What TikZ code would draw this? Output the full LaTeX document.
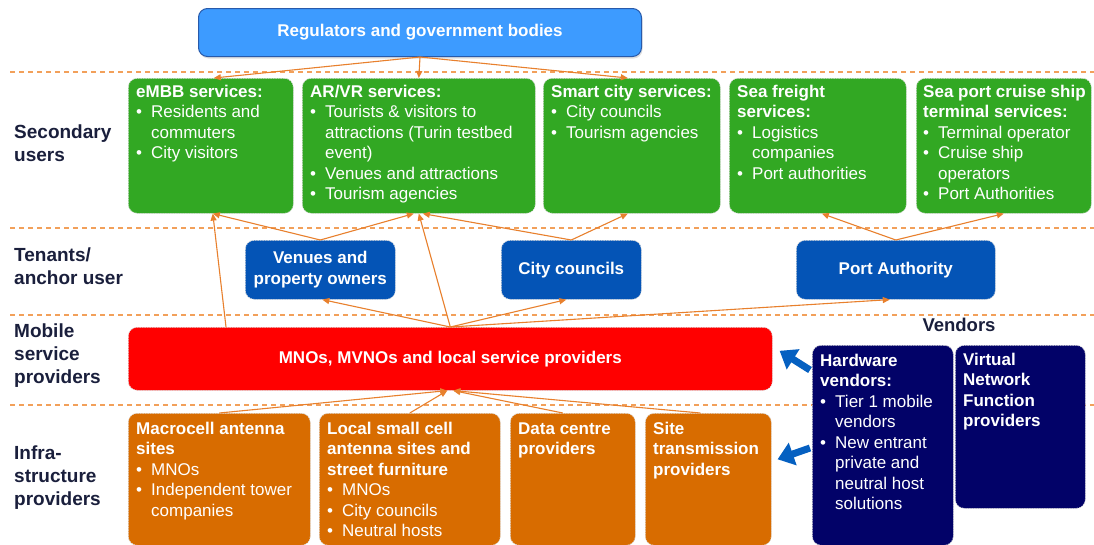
\documentclass[tikz,border=0pt]{standalone}
\usepackage{fontspec}
\setmainfont{Liberation Sans}
\usetikzlibrary{arrows.meta,shadows}
\definecolor{cgreen}{RGB}{50,168,35}
\definecolor{ctenant}{RGB}{4,84,182}
\definecolor{creg}{RGB}{61,155,255}
\definecolor{cregb}{RGB}{40,90,170}
\definecolor{cred}{RGB}{255,0,0}
\definecolor{corange}{RGB}{216,108,0}
\definecolor{cnavy}{RGB}{2,2,104}
\definecolor{clabel}{RGB}{26,31,60}
\definecolor{cconn}{RGB}{232,128,45}
\definecolor{csep}{RGB}{242,160,90}
\definecolor{cbig}{RGB}{5,96,193}
\newcommand\bitem[1]{\makebox[15pt][l]{\textbullet}#1}
\newcommand\bcont[1]{\hspace*{15pt}#1}
\begin{document}
\begin{tikzpicture}[x=1pt,y=-1pt,
  boxbase/.style={rounded corners=9pt, draw=white!72!gray, dash pattern=on 1.5pt off 1pt, line width=0.6pt, inner sep=0pt, anchor=north west},
  gbox/.style={boxbase, fill=cgreen},
  tbox/.style={boxbase, fill=ctenant, text=white, align=center, font=\bfseries\fontsize{17}{20.5}\selectfont},
  rbox/.style={boxbase, fill=cred, text=white, font=\bfseries\fontsize{17}{20.5}\selectfont},
  obox/.style={boxbase, fill=corange},
  nbox/.style={boxbase, fill=cnavy},
  regbox/.style={rounded corners=9pt, draw=cregb, line width=1pt, fill=creg, inner sep=0pt, anchor=north west, text=white, font=\bfseries\fontsize{17}{20.5}\selectfont, drop shadow={shadow xshift=1pt, shadow yshift=-2pt, opacity=0.25}},
  txt/.style={anchor=north west, inner sep=0pt, align=left, text=white, font=\fontsize{17}{20.5}\selectfont},
  lab/.style={anchor=west, inner sep=0pt, align=left, text=clabel, font=\bfseries\fontsize{19}{23}\selectfont},
  sep/.style={draw=csep, line width=1.4pt, dash pattern=on 5pt off 4pt},
  conn/.style={draw=cconn, line width=1.1pt, -{Triangle[length=7pt,width=6pt]}},
  bigarr/.style={draw=cbig, line width=7pt, -{Triangle[length=16pt,width=23pt]}}
]
\fill[white] (0,0) rectangle (1094,544);
\useasboundingbox (0,0) rectangle (1094,544);

% separators
\coordinate (s1a) at (10,72);  \coordinate (s1b) at (1094,72);
\coordinate (s2a) at (10,228); \coordinate (s2b) at (1094,228);
\coordinate (s3a) at (10,315); \coordinate (s3b) at (1094,315);
\coordinate (s4a) at (10,405); \coordinate (s4b) at (1094,405);
\draw[sep] (s1a) -- (s1b);
\draw[sep] (s2a) -- (s2b);
\draw[sep] (s3a) -- (s3b);
\draw[sep] (s4a) -- (s4b);

% left labels
\node[lab] (l1) at (14,143.5) {Secondary\\users};
\node[lab] (l2) at (14,266.5) {Tenants/\\anchor user};
\node[lab] (l3) at (14,355.5) {Mobile\\service\\providers};
\node[lab] (l4) at (14,478) {Infra-\\structure\\providers};
\node[lab, anchor=center, font=\bfseries\fontsize{18.5}{22}\selectfont] (vend) at (959,325) {Vendors};

% regulators
\node[regbox, minimum width=443pt, minimum height=48pt] (reg) at (198,8) {Regulators and government bodies};

% secondary users
\node[gbox, minimum width=165pt, minimum height=135pt] (embb) at (128,78) {};
\node[gbox, minimum width=233pt, minimum height=135pt] (arvr) at (302,78) {};
\node[gbox, minimum width=177pt, minimum height=135pt] (smart) at (543,78) {};
\node[gbox, minimum width=177pt, minimum height=135pt] (freight) at (729,78) {};
\node[gbox, minimum width=175pt, minimum height=135pt] (port) at (916,78) {};
\node[txt] (embbT) at (136,82.65) {\strut\textbf{eMBB services:}\\\bitem{Residents and}\\\bcont{commuters}\\\bitem{City visitors}};
\node[txt] (arvrT) at (310,82.65) {\strut\textbf{AR/VR services:}\\\bitem{Tourists \& visitors to}\\\bcont{attractions (Turin testbed}\\\bcont{event)}\\\bitem{Venues and attractions}\\\bitem{Tourism agencies}};
\node[txt] (smartT) at (551,82.65) {\strut\textbf{Smart city services:}\\\bitem{City councils}\\\bitem{Tourism agencies}};
\node[txt] (freightT) at (737,82.65) {\strut\textbf{Sea freight}\\\textbf{services:}\\\bitem{Logistics}\\\bcont{companies}\\\bitem{Port authorities}};
\node[txt] (portT) at (923,82.65) {\strut\textbf{Sea port cruise ship}\\\textbf{terminal services:}\\\bitem{Terminal operator}\\\bitem{Cruise ship}\\\bcont{operators}\\\bitem{Port Authorities}};

% tenants
\node[tbox, minimum width=150pt, minimum height=59pt] (venues) at (245,240) {Venues and\\property owners};
\node[tbox, minimum width=140pt, minimum height=59pt] (city) at (501,240) {City councils};
\node[tbox, minimum width=199pt, minimum height=59pt] (porta) at (796,240) {Port Authority};

% mobile service providers
\node[rbox, minimum width=644pt, minimum height=63pt] (mno) at (128,327) {MNOs, MVNOs and local service providers};

% infrastructure
\node[obox, minimum width=182pt, minimum height=132pt] (macro) at (128,413) {};
\node[obox, minimum width=181pt, minimum height=132pt] (local) at (319,413) {};
\node[obox, minimum width=125pt, minimum height=132pt] (data) at (510,413) {};
\node[obox, minimum width=126pt, minimum height=132pt] (site) at (645,413) {};
\node[txt] (macroT) at (136,419.65) {\strut\textbf{Macrocell antenna}\\\textbf{sites}\\\bitem{MNOs}\\\bitem{Independent tower}\\\bcont{companies}};
\node[txt] (localT) at (327,419.65) {\strut\textbf{Local small cell}\\\textbf{antenna sites and}\\\textbf{street furniture}\\\bitem{MNOs}\\\bitem{City councils}\\\bitem{Neutral hosts}};
\node[txt] (dataT) at (518,419.65) {\strut\textbf{Data centre}\\\textbf{providers}};
\node[txt] (siteT) at (653,419.65) {\strut\textbf{Site}\\\textbf{transmission}\\\textbf{providers}};

% vendors
\node[nbox, minimum width=141pt, minimum height=200pt] (hw) at (812,345) {};
\node[nbox, minimum width=130pt, minimum height=163pt] (vnf) at (955,345) {};
\node[txt] (hwT) at (820,351.65) {\strut\textbf{Hardware}\\\textbf{vendors:}\\\bitem{Tier 1 mobile}\\\bcont{vendors}\\\bitem{New entrant}\\\bcont{private and}\\\bcont{neutral host}\\\bcont{solutions}};
\node[txt] (vnfT) at (963,350.65) {\strut\textbf{Virtual}\\\textbf{Network}\\\textbf{Function}\\\textbf{providers}};

% connectors: regulators to secondary users
\draw[conn] (reg.south) -- ([shift={(3,0)}]embb.north);
\draw[conn] (reg.south) -- (arvr.north);
\draw[conn] (reg.south) -- ([shift={(-4,0)}]smart.north);
% tenants to secondary users
\draw[conn] (venues.north) -- ([shift={(2,0)}]embb.south);
\draw[conn] (venues.north) -- ([shift={(-5,0)}]arvr.south);
\draw[conn] (city.north) -- ([shift={(4,0)}]arvr.south);
\draw[conn] (city.north) -- ([shift={(-4,0)}]smart.south);
\draw[conn] (porta.north) -- ([shift={(4,0)}]freight.south);
\draw[conn] (porta.north) -- (port.south);
% MNO to tenants and secondary
\draw[conn] ([shift={(98,0)}]mno.north west) -- ([shift={(2,0)}]embb.south);
\draw[conn] (mno.north) -- ([shift={(2,0)}]venues.south);
\draw[conn] (mno.north) -- (arvr.south);
\draw[conn] (mno.north) -- ([shift={(-5,0)}]city.south);
\draw[conn] (mno.north) -- ([shift={(-6,0)}]porta.south);
% infrastructure to MNO
\draw[conn] (macro.north) -- ([shift={(-3,0)}]mno.south);
\draw[conn] (local.north) -- ([shift={(-3,0)}]mno.south);
\draw[conn] ([shift={(-10,0)}]data.north) -- ([shift={(3,0)}]mno.south);
\draw[conn] ([shift={(-8,0)}]site.north) -- ([shift={(3,0)}]mno.south);

% vendor arrows
\draw[bigarr] ([shift={(-2,25)}]hw.north west) -- ([shift={(7,-8)}]mno.east);
\draw[bigarr] ([shift={(-2,103)}]hw.north west) -- ([shift={(6,-20)}]site.east);
\end{tikzpicture}
\end{document}
